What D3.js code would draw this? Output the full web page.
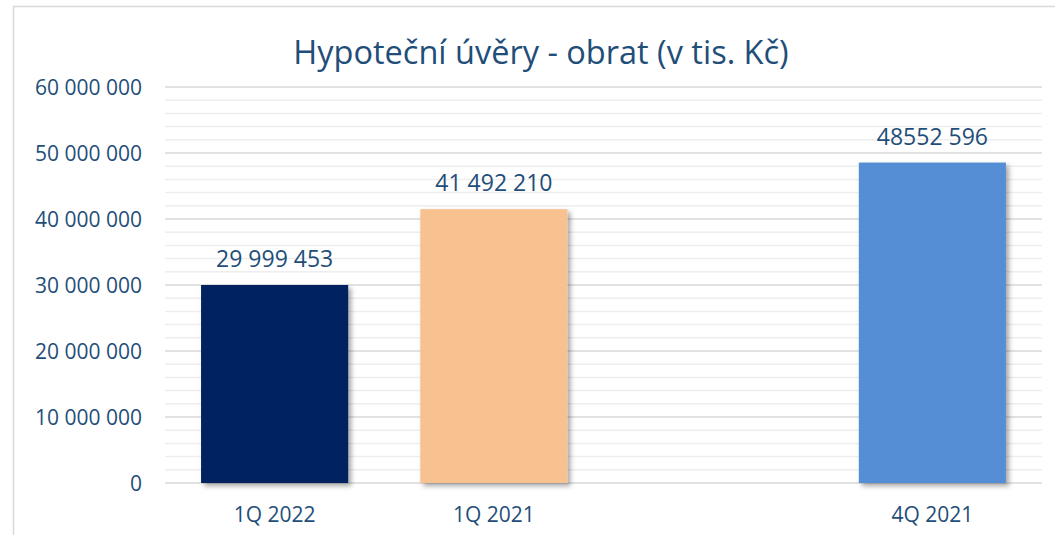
<!DOCTYPE html>
<html>
<head>
    <meta charset="utf-8">
    <script src="https://d3js.org/d3.v7.min.js"></script>
    <style>
        body { margin: 0; background: white; }
        text { font-family: "Open Sans", "Liberation Sans", sans-serif; }
    </style>
</head>
<body>
    <div id="chart"></div>
    <script>
        // chart data
        var categories = ["1Q 2022", "1Q 2021", "", "4Q 2021"];
        var values = [29999453, 41492210, null, 48552596];
        var valueLabels = ["29 999 453", "41 492 210", "", "48552 596"];
        var barColors = ["#002060", "#F8C190", "#ffffff", "#558ED5"];
        var majorTicks = [0, 10000000, 20000000, 30000000, 40000000, 50000000, 60000000];
        var tickLabels = ["0", "10 000 000", "20 000 000", "30 000 000", "40 000 000", "50 000 000", "60 000 000"];

        var W = 1055, H = 535;
        var margin = {top: 87, right: 13, bottom: 52, left: 165};
        var width = W - margin.left - margin.right,
            height = H - margin.top - margin.bottom;
        var textColor = "#1F4E79";

        var svg = d3.select("#chart")
            .append("svg")
                .attr("width", W)
                .attr("height", H);

        var defs = svg.append("defs");
        var f = defs.append("filter").attr("id", "shadow")
            .attr("x", "-10%").attr("y", "-10%").attr("width", "130%").attr("height", "130%");
        f.append("feDropShadow")
            .attr("dx", 3).attr("dy", 3).attr("stdDeviation", 2.5)
            .attr("flood-color", "#000").attr("flood-opacity", 0.35);

        // outer chart border
        svg.append("rect")
            .attr("x", 13.5).attr("y", 6.5)
            .attr("width", W).attr("height", H)
            .attr("fill", "none")
            .attr("stroke", "#d9d9d9")
            .attr("stroke-width", 1.5);

        var g = svg.append("g")
            .attr("transform", "translate(" + margin.left + "," + margin.top + ")");

        var y = d3.scaleLinear().domain([0, 60000000]).range([height, 0]);
        var x = d3.scaleBand()
            .domain(categories.map(function(d, i) { return i; }))
            .range([0, width])
            .paddingInner(0.329)
            .paddingOuter(0.1645);

        // minor gridlines
        var minor = d3.range(0, 60000001, 2000000).filter(function(v) { return v % 10000000 !== 0; });
        g.selectAll(".minor")
            .data(minor)
            .enter().append("line")
                .attr("x1", 0).attr("x2", width)
                .attr("y1", function(d) { return y(d); })
                .attr("y2", function(d) { return y(d); })
                .attr("stroke", "#eeeeee")
                .attr("stroke-width", 1.5);

        // major gridlines + axis labels
        g.selectAll(".major")
            .data(majorTicks)
            .enter().append("line")
                .attr("x1", 0).attr("x2", width)
                .attr("y1", function(d) { return y(d); })
                .attr("y2", function(d) { return y(d); })
                .attr("stroke", "#d9d9d9")
                .attr("stroke-width", 1.5);

        var yAxis = g.append("g")
            .attr("transform", "translate(-20,0)")
            .call(d3.axisLeft(y).tickValues(majorTicks).tickSize(0)
                .tickFormat(function(d, i) { return tickLabels[i]; }));
        yAxis.select(".domain").remove();
        yAxis.selectAll("text")
            .attr("fill", textColor)
            .style("font-size", "21px")
            .attr("dy", "0.36em");

        var xAxis = g.append("g")
            .attr("transform", "translate(0," + height + ")")
            .call(d3.axisBottom(x).tickSize(0)
                .tickFormat(function(d) { return categories[d]; }));
        xAxis.select(".domain").remove();
        xAxis.selectAll("text")
            .attr("fill", textColor)
            .attr("y", 39)
            .attr("dy", 0)
            .style("font-size", "21px");

        // bars
        var data = values.map(function(v, i) { return {i: i, v: v}; })
            .filter(function(d) { return d.v !== null; });

        g.selectAll(".bar")
            .data(data)
            .enter().append("rect")
                .attr("x", function(d) { return x(d.i); })
                .attr("y", function(d) { return y(d.v); })
                .attr("width", x.bandwidth())
                .attr("height", function(d) { return height - y(d.v); })
                .attr("fill", function(d) { return barColors[d.i]; })
                .attr("filter", "url(#shadow)");

        g.selectAll(".val")
            .data(data)
            .enter().append("text")
                .attr("x", function(d) { return x(d.i) + x.bandwidth() / 2; })
                .attr("y", function(d) { return y(d.v) - 18; })
                .attr("text-anchor", "middle")
                .attr("fill", textColor)
                .style("font-size", "23px")
                .text(function(d) { return valueLabels[d.i]; });

        // title
        svg.append("text")
            .attr("x", 541)
            .attr("y", 64)
            .attr("text-anchor", "middle")
            .attr("fill", textColor)
            .style("font-size", "32.5px")
            .text("Hypoteční úvěry - obrat (v tis. Kč)");
    </script>
</body>
</html>
